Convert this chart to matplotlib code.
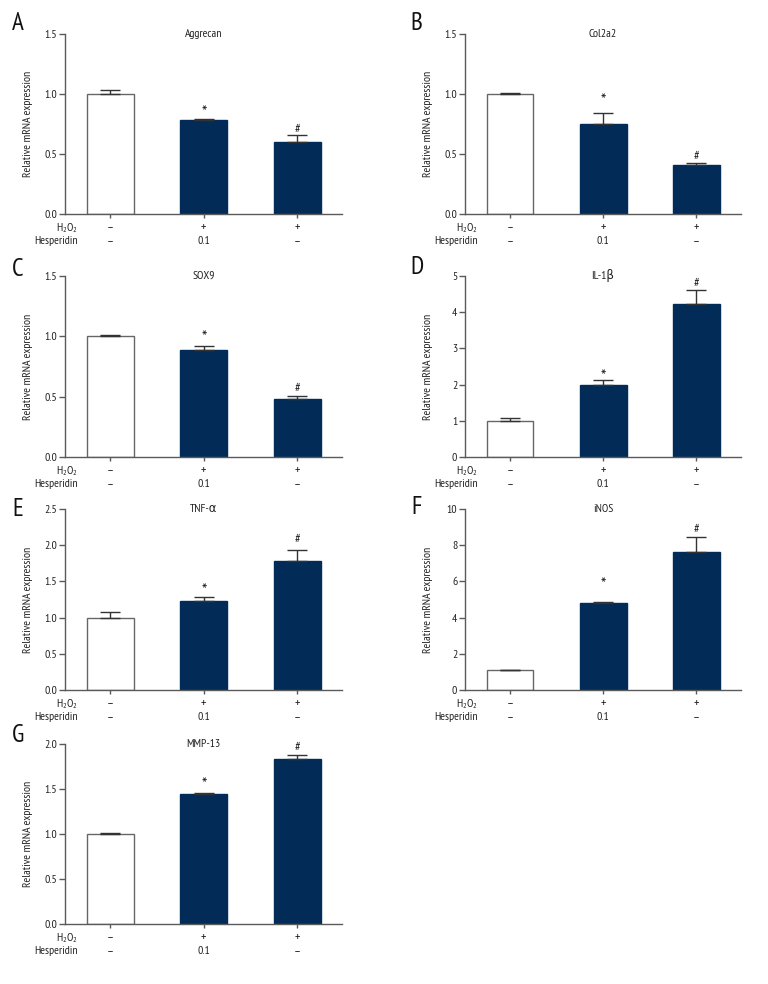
import matplotlib
matplotlib.use("Agg")
import matplotlib.pyplot as plt

plt.rcParams['font.family'] = ['PT Sans Narrow', 'DejaVu Sans']
plt.rcParams['mathtext.fontset'] = 'custom'
plt.rcParams['mathtext.rm'] = 'PT Sans Narrow'
plt.rcParams['mathtext.default'] = 'regular'

NAVY = "#022c57"
AXIS = "#5a5a5a"
TEXT = "#222222"
FS = 8.5

# data
panels = ["A", "B", "C", "D", "E", "F", "G"]
genes = ["Aggrecan", "Col2a2", "SOX9", "IL-1\u03b2", "TNF-\u03b1", "iNOS", "MMP-13"]
means = [
    [1.00, 0.78, 0.60],
    [1.00, 0.75, 0.41],
    [1.00, 0.89, 0.48],
    [1.00, 2.00, 4.24],
    [1.00, 1.23, 1.78],
    [1.08, 4.80, 7.65],
    [1.00, 1.445, 1.83],
]
errors = [
    [0.03, 0.015, 0.055],
    [0.012, 0.09, 0.015],
    [0.01, 0.03, 0.025],
    [0.09, 0.13, 0.37],
    [0.08, 0.06, 0.16],
    [0.05, 0.07, 0.78],
    [0.007, 0.015, 0.05],
]
marks = ["", "*", "#"]
yticks = [
    [0.0, 0.5, 1.0, 1.5],
    [0.0, 0.5, 1.0, 1.5],
    [0.0, 0.5, 1.0, 1.5],
    [0, 1, 2, 3, 4, 5],
    [0.0, 0.5, 1.0, 1.5, 2.0, 2.5],
    [0, 2, 4, 6, 8, 10],
    [0.0, 0.5, 1.0, 1.5, 2.0],
]
ytick_labels = [
    ["0.0", "0.5", "1.0", "1.5"],
    ["0.0", "0.5", "1.0", "1.5"],
    ["0.0", "0.5", "1.0", "1.5"],
    ["0", "1", "2", "3", "4", "5"],
    ["0.0", "0.5", "1.0", "1.5", "2.0", "2.5"],
    ["0", "2", "4", "6", "8", "10"],
    ["0.0", "0.5", "1.0", "1.5", "2.0"],
]
h2o2 = ["\u2013", "+", "+"]
hesperidin = ["\u2013", "0.1", "\u2013"]
bar_colors = ["white", NAVY, NAVY]
bar_edges = ["#666666", NAVY, NAVY]

W, H = 768, 984
fig = plt.figure(figsize=(W / 100, H / 100), dpi=100)

# pixel layout: (left, right) per column, (top, bottom) per row
cols = [(65, 342), (465, 741)]
rows = [(34, 214), (276, 457), (509, 690), (744, 924)]
letter_pos = [(12, 23), (410, 23), (12, 270), (410, 268), (12, 510), (411, 508), (12, 736)]
# gap (px) between error bar top and the centre of the significance mark
star_gap = [9, 16, 12, 7, 9, 21, 11]
hash_gap = [7, 7, 8, 8, 11, 9, 8]

for i, name in enumerate(genes):
    l, r = cols[i % 2]
    t, b = rows[i // 2]
    ax = fig.add_axes([l / W, 1 - b / H, (r - l) / W, (b - t) / H])
    x = range(3)
    ax.bar(x, means[i], width=0.5, color=bar_colors, edgecolor=bar_edges, linewidth=1.0, zorder=2)
    ax.errorbar(x, means[i], yerr=[[0, 0, 0], errors[i]], fmt="none", ecolor="#333333",
                elinewidth=1.0, capsize=7.5, capthick=1.0, zorder=3)
    top = [m + e for m, e in zip(means[i], errors[i])]
    # asterisk glyph sits ~9 px above its baseline at this size, '#' ~4.5 px
    ax.annotate("*", (1, top[1]), xytext=(0, (star_gap[i] - 9) * 0.72),
                textcoords="offset points", ha="center", va="baseline", fontsize=13, color=TEXT)
    ax.annotate("#", (2, top[2]), xytext=(0, (hash_gap[i] - 4.5) * 0.72),
                textcoords="offset points", ha="center", va="baseline", fontsize=9, color=TEXT)
    ax.set_xlim(-0.485, 2.48)
    ax.set_ylim(yticks[i][0], yticks[i][-1])
    ax.set_yticks(yticks[i])
    ax.set_yticklabels(ytick_labels[i])
    ax.set_xticks(list(x))
    ax.set_xticklabels([])
    for s in ["top", "right"]:
        ax.spines[s].set_visible(False)
    for s in ["left", "bottom"]:
        ax.spines[s].set_color(AXIS)
        ax.spines[s].set_linewidth(1.0)
    ax.tick_params(axis="y", length=4, width=1, color=AXIS, labelsize=FS, pad=1.5, labelcolor=TEXT)
    ax.tick_params(axis="x", length=3, width=1, color=AXIS)
    ax.set_ylabel("Relative mRNA expression", fontsize=FS, color=TEXT)
    ax.yaxis.set_label_coords(-32 / (r - l), 0.5)
    ax.text(0.5, 1.0, name, transform=ax.transAxes, ha="center", va="center",
            fontsize=FS, color=TEXT)

    # treatment rows under the axis
    ax.annotate(r"H$_2$O$_2$", (0.047, 0), xycoords="axes fraction", xytext=(0, -10),
                textcoords="offset points", ha="right", va="center", fontsize=FS, color=TEXT)
    ax.annotate("Hesperidin", (0.047, 0), xycoords="axes fraction", xytext=(0, -19.5),
                textcoords="offset points", ha="right", va="center", fontsize=FS, color=TEXT)
    for j in x:
        ax.annotate(h2o2[j], (j, 0), xycoords=("data", "axes fraction"), xytext=(0, -10),
                    textcoords="offset points", ha="center", va="center", fontsize=9.5, color=TEXT)
        ax.annotate(hesperidin[j], (j, 0), xycoords=("data", "axes fraction"), xytext=(0, -19.5),
                    textcoords="offset points", ha="center", va="center", fontsize=9.5 if hesperidin[j] != "0.1" else FS,
                    color=TEXT)

    lx, ly = letter_pos[i]
    fig.text(lx / W, 1 - ly / H, panels[i], ha="left", va="center", fontsize=18, color="#111111")

fig.savefig("out.png", dpi=100, facecolor="white")
